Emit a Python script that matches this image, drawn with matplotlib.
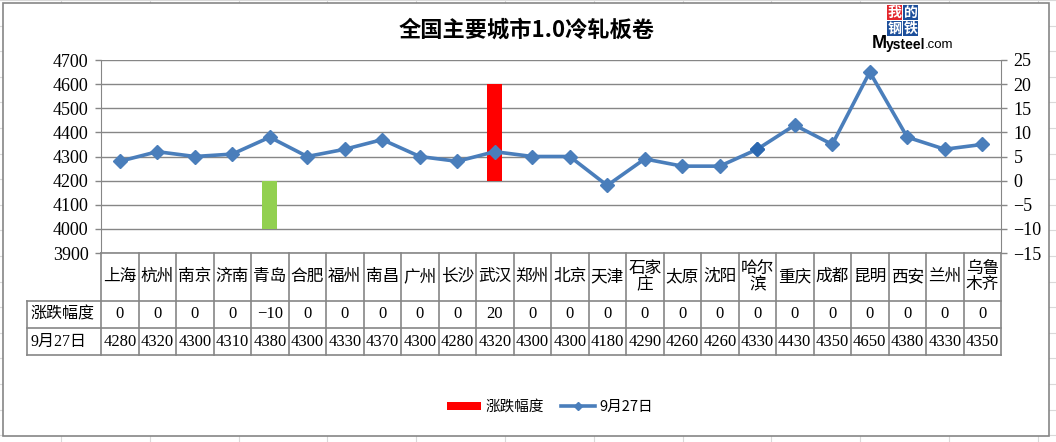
import matplotlib
matplotlib.use("Agg")
import matplotlib.pyplot as plt
from matplotlib.lines import Line2D
from matplotlib.patches import Rectangle

# 数据
cities = ["上海", "杭州", "南京", "济南", "青岛", "合肥", "福州", "南昌", "广州", "长沙",
          "武汉", "郑州", "北京", "天津", "石家\n庄", "太原", "沈阳", "哈尔\n滨", "重庆",
          "成都", "昆明", "西安", "兰州", "乌鲁\n木齐"]
change = [0, 0, 0, 0, -10, 0, 0, 0, 0, 0, 20, 0, 0, 0, 0, 0, 0, 0, 0, 0, 0, 0, 0, 0]
price = [4280, 4320, 4300, 4310, 4380, 4300, 4330, 4370, 4300, 4280, 4320, 4300,
         4300, 4180, 4290, 4260, 4260, 4330, 4430, 4350, 4650, 4380, 4330, 4350]
left_ticks = [3900, 4000, 4100, 4200, 4300, 4400, 4500, 4600, 4700]
right_ticks = [-15, -10, -5, 0, 5, 10, 15, 20, 25]
row_names = ["涨跌幅度", "9月27日"]

W, H = 1056, 442
GRAY = "#868686"
BLUE = "#4A7EBB"
SERIF = ["Liberation Serif", "Noto Sans CJK SC"]
SANS = ["Noto Sans CJK SC", "DejaVu Sans"]

plt.rcParams["font.family"] = SANS


def fx(px):
    return px / W


def fy(py):
    return 1 - py / H


fig = plt.figure(figsize=(W / 100, H / 100), dpi=100)

# 背景表格线（Excel 网格）
for k in range(0, 20):
    fig.add_artist(Line2D([0, 1], [fy(25.6 * k), fy(25.6 * k)], color="#D9D9D9", lw=0.8, zorder=-5))
for k in range(0, 13):
    xx = 61 + 88.8 * k
    fig.add_artist(Line2D([fx(xx), fx(xx)], [0, 1], color="#D9D9D9", lw=0.8, zorder=-5))
fig.add_artist(Rectangle((fx(2.5), fy(436)), fx(1049) - fx(2.5), fy(3) - fy(436),
                         facecolor="white", edgecolor=GRAY, lw=1.2, zorder=-4))

x = list(range(len(cities)))
bar_colors = ["#FF0000"] * len(cities)
bar_colors[4] = "#92D050"

# 主图
ax = fig.add_axes([fx(101), fy(253), fx(1001) - fx(101), fy(60) - fy(253)])
ax2 = ax.twinx()
ax.set_zorder(ax2.get_zorder() + 1)
ax.patch.set_visible(False)

ax2.bar(x, change, width=0.4, color=bar_colors, label="涨跌幅度", zorder=2)
ax2.set_ylim(-15, 25)
ax2.set_yticks(right_ticks)
ax2.grid(axis="y", color=GRAY, lw=1)
ax2.set_axisbelow(True)

ax.plot(x, price, color=BLUE, lw=2.6, marker="D", ms=7, label="9月27日")
# 哈尔滨数据点颜色略深
ax.plot([x[17]], [price[17]], "D", ms=7, color="#2C68B0")
ax.set_ylim(3900, 4700)
ax.set_yticks(left_ticks)
ax.set_xlim(-0.5, len(cities) - 0.5)
ax.set_xticks([])
ax2.set_xticks([])

for a in (ax, ax2):
    for s in a.spines.values():
        s.set_visible(False)
    a.tick_params(axis="y", direction="out", length=4, color=GRAY, width=1, pad=5, labelsize=13)
    for lab in a.get_yticklabels():
        lab.set_family(SERIF)
ax.spines["left"].set_visible(True)
ax.spines["left"].set_color(GRAY)
ax2.spines["right"].set_visible(True)
ax2.spines["right"].set_color(GRAY)

# 数据表
lw_px = (101 - 27) / 37.5
tax = fig.add_axes([fx(27), fy(355), fx(1001) - fx(27), fy(253) - fy(355)])
tax.set_xlim(-0.5 - lw_px, len(cities) - 0.5)
tax.set_ylim(102, 0)
tax.axis("off")
n = len(cities)
tax.plot([-0.5, n - 0.5], [0, 0], color=GRAY, lw=1.2, clip_on=False)
for yy in (48, 75, 102):
    tax.plot([-0.5 - lw_px, n - 0.5], [yy, yy], color=GRAY, lw=1.2, clip_on=False)
for i in range(n + 1):
    tax.plot([i - 0.5, i - 0.5], [0, 102], color=GRAY, lw=1.2, clip_on=False)
tax.plot([-0.5 - lw_px] * 2, [48, 102], color=GRAY, lw=1.2, clip_on=False)

for i, c in enumerate(cities):
    tax.text(i, 24, c, ha="center", va="center", fontsize=12, family=SERIF, linespacing=1.0)
    tax.text(i, 61.5, str(change[i]).replace("-", "\u2212"), ha="center", va="center",
             fontsize=12, family=SERIF)
    tax.text(i, 88.5, str(price[i]), ha="center", va="center", fontsize=12, family=SERIF)
tax.text(-0.5 - lw_px + 0.1, 61.5, row_names[0], ha="left", va="center", fontsize=11.5, family=SERIF)
tax.text(-0.5 - lw_px + 0.1, 88.5, row_names[1], ha="left", va="center", fontsize=11.5, family=SERIF)

# 标题
fig.text(fx(527), fy(30), "全国主要城市1.0冷轧板卷", ha="center", va="center",
         fontsize=16, fontweight="bold")

# 图例
h1, l1 = ax2.get_legend_handles_labels()
h2, l2 = ax.get_legend_handles_labels()
fig.legend(h1 + h2[:1], l1 + l2[:1], loc="center", bbox_to_anchor=(fx(550), fy(407)), ncol=2,
           frameon=False, fontsize=10.5, handlelength=2.3, handleheight=0.45,
           columnspacing=1.2, handletextpad=0.3, markerscale=0.6)

# Mysteel 标志
for (bx, by, ch, col) in [(887, 5, "我", "#E3262C"), (903, 5, "的", "#1D4F9B"),
                          (887, 21, "钢", "#1D4F9B"), (903, 21, "铁", "#1D4F9B")]:
    fig.add_artist(Rectangle((fx(bx), fy(by + 15)), 15 / W, 15 / H, facecolor=col,
                             edgecolor="none"))
    fig.text(fx(bx + 7.5), fy(by + 7.5), ch, ha="center", va="center", color="white",
             fontsize=10, fontweight="bold")
fig.text(fx(872), fy(43), "M", ha="left", va="center", fontsize=13, fontweight="bold",
         family="Liberation Sans")
fig.text(fx(886), fy(45), "ysteel", ha="left", va="center", fontsize=10, fontweight="bold",
         family="Liberation Sans")
fig.text(fx(925), fy(45), ".com", ha="left", va="center", fontsize=9.5,
         family="Liberation Sans")

fig.savefig("out.png", dpi=100)
